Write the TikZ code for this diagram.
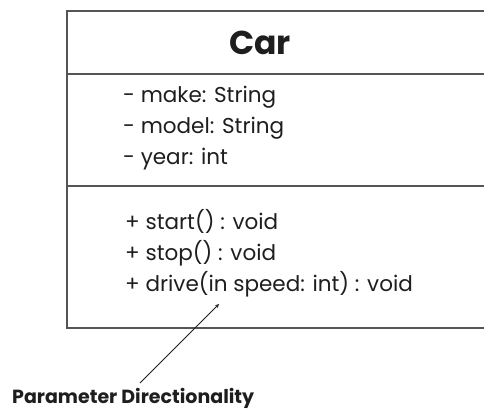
\documentclass[tikz,border=0pt]{standalone}
\usepackage{fontspec}
\setmainfont{Poppins}
\usetikzlibrary{arrows,positioning}
\definecolor{umlline}{RGB}{85,85,85}
\definecolor{umltext}{RGB}{30,30,30}

\begin{document}
\begin{tikzpicture}[
        x=1pt, y=-1pt,
        member/.style={anchor=base west, inner sep=0pt, text=umltext, font=\fontsize{21.5}{25}\selectfont},
        title/.style={anchor=base, inner sep=0pt, text=umltext, font=\fontsize{33}{36}\selectfont\bfseries},
        note/.style={anchor=base west, inner sep=0pt, text=umltext, font=\fontsize{19}{22}\selectfont\bfseries},
        frame/.style={draw=umlline, line width=1.3pt}
    ]
        \useasboundingbox (0,0) rectangle (484,411);
        \fill[white] (0,0) rectangle (484,411);

        % class box and its compartments
        \draw[frame] (67,11) rectangle (492,328);
        \draw[frame] (67,74) -- (492,74);
        \draw[frame] (67,186) -- (492,186);

        \node[title] (cls) at (260,55) {Car};

        \node[member] (make) at (123,103) {- make: String};
        \node[member] (model) at (123,134) {- model: String};
        \node[member] (year) at (123,165) {- year: int};

        \node[member] (start) at (125,230) {+ start() : void};
        \node[member] (stop) at (125,261) {+ stop() : void};
        \node[member] (drive) at (125,292) {+ drive(in speed: int) : void};

        \node[note] (dir) at (12,403) {Parameter Directionality};
        \coordinate (tip) at (219,304);

        \draw[->, >=stealth, thick, umltext] (140,383) -- (tip);
    \end{tikzpicture}
\end{document}
